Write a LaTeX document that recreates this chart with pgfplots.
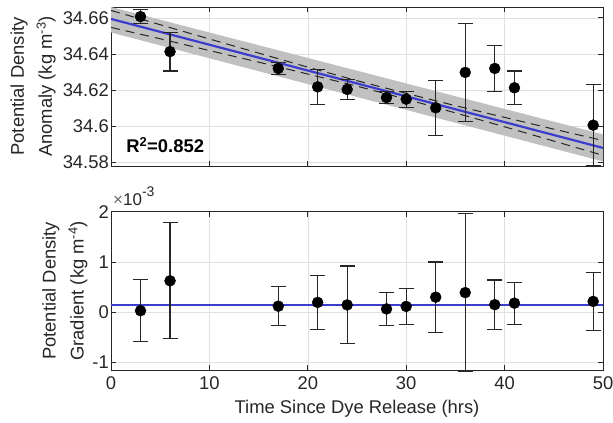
\documentclass[border=0pt]{standalone}
\usepackage{pgfplots}
\pgfplotsset{compat=1.18}
\usepackage{fontspec}
\setmainfont{Liberation Sans}
\definecolor{fitblue}{RGB}{60,60,205}
\definecolor{bandgray}{RGB}{192,192,192}
\definecolor{axgray}{RGB}{38,38,38}
\pgfplotsset{
  myax/.style={
    scale only axis, width=492bp, anchor=south west,
    xmin=0, xmax=50, xtick={0,10,...,50},
    axis line style={axgray, line width=0.8bp},
    tick style={axgray, line width=0.8bp}, major tick length=5bp, tick align=inside,
    xtick pos=both, ytick pos=both,
    grid=major, grid style={line width=0.6bp, black!12},
    clip=false,
    /pgf/number format/assume math mode=true,
    tick label style={font=\fontsize{18.4bp}{21bp}\selectfont, text=axgray},
    yticklabel style={inner xsep=2bp},
    label style={font=\fontsize{18.4bp}{28bp}\selectfont, text=axgray},
  },
  errpts/.style={black, only marks, mark=*, mark size=5.5bp, mark options={fill=black, draw=black},
    error bars/.cd, y dir=both, y explicit,
    error bar style={black!85, line width=1.1bp},
    error mark options={rotate=90, mark size=7.5bp, black!85, line width=1.1bp}},
}
\begin{document}
\fontsize{18.4bp}{22bp}\selectfont
\begin{tikzpicture}[x=1bp,y=1bp]
\useasboundingbox (0,0) rectangle (613,422);
% ---------- top panel ----------
\begin{axis}[myax, at={(111bp,256bp)}, height=159bp,
  ymin=34.578, ymax=34.666,
  ytick={34.58,34.6,34.62,34.64,34.66},
  yticklabels={34.58,34.6,34.62,34.64,34.66},
  xticklabel=\empty,
  ylabel={Potential Density\\Anomaly (kg m\textsuperscript{-3})},
  ylabel style={align=center, at={(axis description cs:-0.1585,0.5)}, anchor=center},
]
\addplot[fill=bandgray, draw=none] coordinates {
  (0,34.6660) (50,34.5955) (50,34.5805) (0,34.6519)} -- cycle;
\addplot[black!85, line width=1bp, dash pattern=on 9bp off 6bp] coordinates {
  (0,34.6641) (5,34.6562) (10,34.6483) (15,34.6405) (20,34.6327) (25,34.6252)
  (30,34.6182) (35,34.6114) (40,34.6049) (45,34.5984) (50,34.5921)};
\addplot[black!85, line width=1bp, dash pattern=on 9bp off 6bp] coordinates {
  (0,34.6547) (5,34.6484) (10,34.6419) (15,34.6355) (20,34.6289) (25,34.6222)
  (30,34.6150) (35,34.6074) (40,34.5997) (45,34.5918) (50,34.5839)};
\addplot[fitblue, line width=2.2bp] coordinates {(0,34.6594) (50,34.5880)};
\addplot[errpts] table[x=x, y=y, y error=e] {
x y e
3 34.6607 0.0037
6 34.6413 0.0107
17 34.6320 0.0033
21 34.6218 0.0098
24 34.6204 0.0054
28 34.6159 0.0035
30 34.6150 0.0044
33 34.6102 0.0153
36 34.6298 0.0270
39 34.6320 0.0127
41 34.6213 0.0093
49 34.6006 0.0226
};
\node[font=\bfseries\fontsize{18.4bp}{21bp}\selectfont, anchor=center] at (axis cs:5.5,34.5894) {R\textsuperscript{2}=0.852};
\end{axis}
% ---------- bottom panel ----------
\begin{axis}[myax, at={(111bp,52bp)}, height=158.3bp,
  ymin=-1.15, ymax=2,
  ytick={-1,0,1,2},
  yticklabels={-1,0,1,2},
  xlabel={Time Since Dye Release (hrs)},
  xlabel style={at={(axis description cs:0.5,-0.246)}, anchor=center},
  ylabel={Potential Density\\Gradient (kg m\textsuperscript{-4})},
  ylabel style={align=center, at={(axis description cs:-0.094,0.5)}, anchor=center},
]
\addplot[fitblue, line width=2.2bp] coordinates {(0,0.14) (50,0.14)};
\addplot[errpts] table[x=x, y=y, y error=e] {
x y e
3 0.03 0.615
6 0.625 1.155
17 0.12 0.39
21 0.195 0.535
24 0.145 0.775
28 0.065 0.335
30 0.115 0.365
33 0.30 0.70
36 0.39 1.57
39 0.15 0.49
41 0.18 0.42
49 0.215 0.575
};
\node[anchor=base west, text=axgray, inner sep=0pt, font=\fontsize{17bp}{20bp}\selectfont] at ([xshift=2bp,yshift=6bp]axis description cs:0,1) {{\color{axgray!70}×}10\raisebox{0.55em}{\fontsize{14bp}{16bp}\selectfont -3}};
\end{axis}
\end{tikzpicture}
\end{document}
